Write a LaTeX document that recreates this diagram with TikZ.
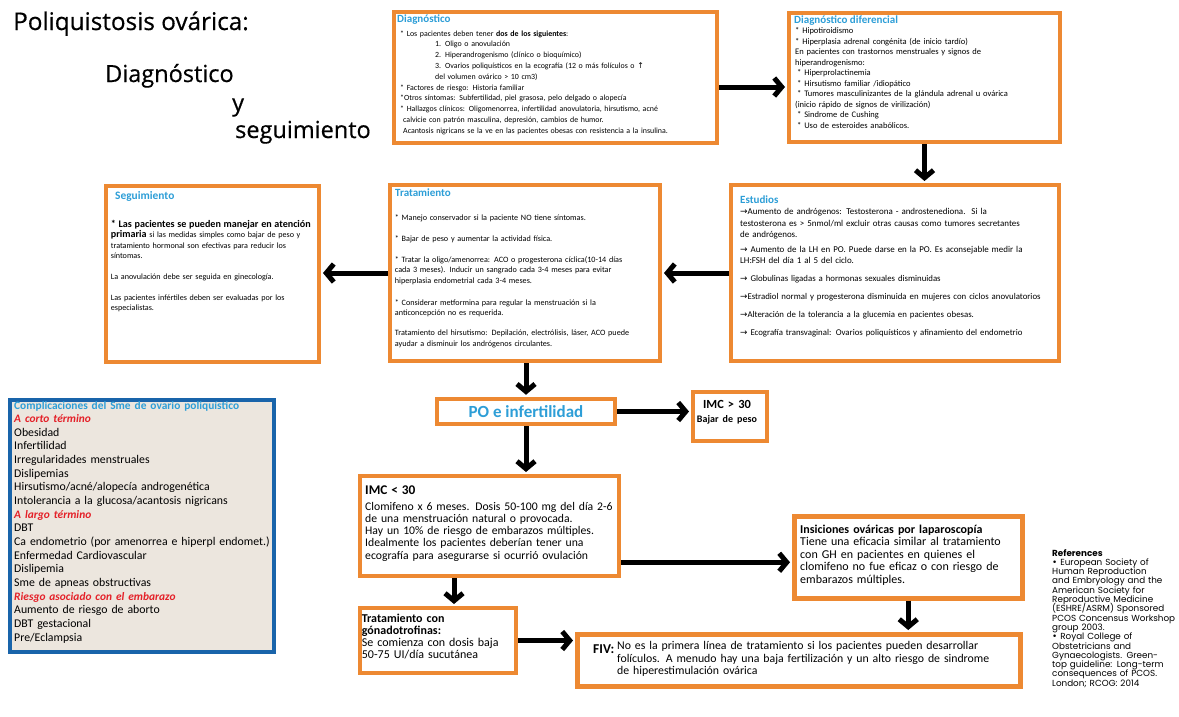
\documentclass[tikz,border=0pt]{standalone}
\usepackage{fontspec}
\setmainfont{Carlito}
\newfontfamily\symf{DejaVu Sans}
\newfontfamily\titf[FakeBold=0.5]{Open Sans}
\newfontfamily\reff{Poppins}
\usetikzlibrary{arrows.meta}
\definecolor{obord}{RGB}{237,137,50}
\definecolor{tblue}{RGB}{45,158,215}
\definecolor{cblue}{RGB}{25,100,170}
\definecolor{cfill}{RGB}{236,230,222}
\definecolor{cred}{RGB}{228,32,40}
\newcommand\myarr{{\symf →}}
\newcommand\myup{{\symf ↑}}
\newcommand\mybul{{\symf •}}
\newcommand\sstar{\mbox{*}}
\newcommand\chead[1]{{\color{cred}\bfseries\itshape\fontsize{11.4}{13.65}\selectfont #1}}
\begin{document}
\begin{tikzpicture}[x=1pt, y=-1pt,
  obox/.style={draw=obord, line width=4pt, fill=white, inner sep=0pt, anchor=north west},
  tx/.style={anchor=base west, inner sep=0pt, align=left, text width=#1},
  arr/.style={line width=5pt, -{Straight Barb[length=7.5pt,width=18pt]}, shorten >=2pt},
  ttl/.style={anchor=base west, inner sep=0pt, text=tblue, font=\bfseries\fontsize{11}{13}\selectfont},
  big/.style={anchor=base west, inner sep=0pt, font=\titf\fontsize{23.5}{26}\selectfont}]
\fill[white] (0,0) rectangle (1179,716);
\useasboundingbox (0,0) rectangle (1179,716);

% title
\node[big, font=\titf\fontsize{24.3}{26}\selectfont] (t1) at (13,30) {Poliquistosis ovárica:};
\node[big] (t2) at (105,82) {Diagnóstico};
\node[big] (t3) at (232,111) {y};
\node[big] (t4) at (235,138) {seguimiento};

% boxes
\node[obox, minimum width=323pt, minimum height=131pt] (diag) at (392,10) {};
\node[obox, minimum width=271pt, minimum height=129pt] (dif) at (787,11) {};
\node[obox, minimum width=328pt, minimum height=176pt] (est) at (729,183) {};
\node[obox, minimum width=270pt, minimum height=176pt] (trat) at (388,183) {};
\node[obox, minimum width=213pt, minimum height=176pt] (seg) at (104,184) {};
\node[obox, line width=4.5pt, anchor=center, minimum width=178pt, minimum height=25pt,
      text=tblue, font=\bfseries\fontsize{17}{18}\selectfont] (po) at (526,411.5) {PO e infertilidad};
\node[obox, minimum width=74pt, minimum height=49pt] (imc30) at (691,390) {};
\node[obox, minimum width=259pt, minimum height=100pt] (imcl) at (358,474) {};
\node[obox, minimum width=156pt, minimum height=65pt] (gonad) at (358,606) {};
\node[obox, line width=4.5pt, minimum width=228pt, minimum height=82pt] (insic) at (792,514) {};
\node[obox, line width=4.5pt, minimum width=443pt, minimum height=52pt] (fiv) at (575,632) {};
\node[draw=cblue, line width=3.5pt, fill=cfill, inner sep=0pt, anchor=north west,
      minimum width=264pt, minimum height=252pt] (comp) at (8,398) {};

% Diagnostico
\node[ttl] (diagh) at (397,22) {Diagnóstico};
\node[tx=320pt, font=\fontsize{7.9}{10.8}\selectfont] (diagt) at (400,36) {%
\sstar\ Los pacientes deben tener \textbf{dos de los siguientes}:\\
\hspace*{35pt}1. Oligo o anovulación\\
\hspace*{35pt}2. Hiperandrogenismo (clínico o bioquímico)\\
\hspace*{35pt}3. Ovarios poliquísticos en la ecografía (12 o más folículos o \myup\\
\hspace*{35pt}del volumen ovárico > 10 cm3)\\
\sstar\ Factores de riesgo: Historia familiar\\
\sstar Otros síntomas: Subfertilidad, piel grasosa, pelo delgado o alopecía\\
\sstar\ Hallazgos clínicos: Oligomenorrea, infertilidad anovulatoria, hirsutismo, acné\\
\hspace*{3pt}calvicie con patrón masculina, depresión, cambios de humor.\\
\hspace*{3pt}Acantosis nigricans se la ve en las pacientes obesas con resistencia a la insulina.};

% Diagnostico diferencial
\node[ttl] (difh) at (794,23.5) {Diagnóstico diferencial};
\node[tx=260pt, font=\fontsize{8.5}{10.55}\selectfont] (dift) at (795,33.5) {%
\sstar\ Hipotiroidismo\\
\sstar\ Hiperplasia adrenal congénita (de inicio tardío)\\
En pacientes con trastornos menstruales y signos de\\
hiperandrogenismo:\\
\hspace*{2pt}\sstar\ Hiperprolactinemia\\
\hspace*{2pt}\sstar\ Hirsutismo familiar /idiopático\\
\hspace*{2pt}\sstar\ Tumores masculinizantes de la glándula adrenal u ovárica\\
(inicio rápido de signos de virilización)\\
\hspace*{2pt}\sstar\ Sindrome de Cushing\\
\hspace*{2pt}\sstar\ Uso de esteroides anabólicos.};

% Estudios
\node[ttl] (esth) at (740,203) {Estudios};
\node[tx=320pt, font=\fontsize{8.95}{11.7}\selectfont] (est1) at (740,214.3) {%
\myarr Aumento de andrógenos: Testosterona - androstenediona.\ \ Si la\\
testosterona es > 5nmol/ml excluir otras causas como tumores secretantes\\
de andrógenos.};
\node[tx=320pt, font=\fontsize{8.95}{11.2}\selectfont] (est2) at (740,252.7) {%
\myarr\ Aumento de la LH en PO. Puede darse en la PO. Es aconsejable medir la\\
LH:FSH del día 1 al 5 del ciclo.};
\node[tx=320pt, font=\fontsize{8.8}{18.3}\selectfont] (est3) at (740,281) {%
\myarr\ Globulinas ligadas a hormonas sexuales disminuidas\\
\myarr Estradiol normal y progesterona disminuida en mujeres con ciclos anovulatorios\\
\myarr Alteración de la tolerancia a la glucemia en pacientes obesas.\\
\myarr\ Ecografía transvaginal: Ovarios poliquísticos y afinamiento del endometrio};

% Tratamiento
\node[ttl] (trath) at (395,196.5) {Tratamiento};
\node[tx=265pt, font=\fontsize{8.15}{10.4}\selectfont] (tratt) at (394.7,220.7) {%
\sstar\ Manejo conservador si la paciente NO tiene síntomas.\\[10.6pt]
\sstar\ Bajar de peso y aumentar la actividad física.\\[10.3pt]
\sstar\ Tratar la oligo/amenorrea: ACO o progesterona cíclica(10-14 días\\
cada 3 meses). Inducir un sangrado cada 3-4 meses para evitar\\
hiperplasia endometrial cada 3-4 meses.\\[11.9pt]
\sstar\ Considerar metformina para regular la menstruación si la\\
anticoncepción no es requerida.\\[9.6pt]
Tratamiento del hirsutismo: Depilación, electrólisis, láser, ACO puede\\
ayudar a disminuir los andrógenos circulantes.};

% Seguimiento
\node[ttl, font=\bfseries\fontsize{11.4}{13}\selectfont] (segh) at (115,199.5) {Seguimiento};
\node[tx=230pt, font=\fontsize{8.1}{10.4}\selectfont] (segt) at (110.7,227.5) {%
{\bfseries\fontsize{10.1}{10.4}\selectfont \sstar\ Las pacientes se pueden manejar en atención\\
primaria} si las medidas simples como bajar de peso y\\
tratamiento hormonal son efectivas para reducir los\\
síntomas.\\[10.3pt]
La anovulación debe ser seguida en ginecología.\\[10.3pt]
Las pacientes infértiles deben ser evaluadas por los\\
especialistas.};

% Complicaciones
\node[tx=300pt, font=\fontsize{11.8}{13.65}\selectfont] (compt) at (14,409) {%
{\color{tblue}\bfseries\fontsize{11.4}{13.65}\selectfont Complicaciones del Sme de ovario poliquístico}\\
\chead{A corto término}\\
Obesidad\\
Infertilidad\\
Irregularidades menstruales\\
Dislipemias\\
Hirsutismo/acné/alopecía androgenética\\
Intolerancia a la glucosa/acantosis nigricans\\
\chead{A largo término}\\
DBT\\
Ca endometrio (por amenorrea e hiperpl endomet.)\\
Enfermedad Cardiovascular\\
Dislipemia\\
Sme de apneas obstructivas\\
\chead{Riesgo asociado con el embarazo}\\
Aumento de riesgo de aborto\\
DBT gestacional\\
Pre/Eclampsia};

% IMC > 30
\node[anchor=base, inner sep=0pt, align=center, text width=72pt,
      font=\bfseries\fontsize{12.4}{14}\selectfont] (imc30t) at (727,408) {IMC > 30\\{\fontsize{10}{14}\selectfont Bajar de peso}};

% IMC < 30
\node[tx=260pt, font=\fontsize{11.7}{12.1}\selectfont] (imclt) at (365,494) {%
{\bfseries\fontsize{13.3}{12.1}\selectfont IMC < 30}\\[4.5pt]
Clomifeno x 6 meses. Dosis 50-100 mg del día 2-6\\
de una menstruación natural o provocada.\\
Hay un 10\% de riesgo de embarazos múltiples.\\
Idealmente los pacientes deberían tener una\\
ecografía para asegurarse si ocurrió ovulación};

% Gonadotrofinas
\node[tx=152pt, font=\fontsize{12}{12.3}\selectfont] (gonadt) at (361.7,622) {%
\textbf{Tratamiento con}\\
\textbf{gónadotrofinas:}\\
Se comienza con dosis baja\\
50-75 UI/día sucutánea};

% Insiciones
\node[tx=225pt, font=\fontsize{12}{12.5}\selectfont] (insict) at (800,533) {%
\textbf{Insiciones ováricas por laparoscopía}\\
Tiene una eficacia similar al tratamiento\\
con GH en pacientes en quienes el\\
clomifeno no fue eficaz o con riesgo de\\
embarazos múltiples.};

% FIV
\node[anchor=base west, inner sep=0pt, font=\bfseries\fontsize{13.5}{14}\selectfont] (fivh) at (593,653) {FIV:};
\node[tx=400pt, font=\fontsize{11.8}{12.5}\selectfont] (fivt) at (617,649.7) {%
No es la primera línea de tratamiento si los pacientes pueden desarrollar\\
folículos. A menudo hay una baja fertilización y un alto riesgo de sindrome\\
de hiperestimulación ovárica};

% References
\node[tx=130pt, font=\reff\fontsize{8.8}{9.3}\selectfont] (refs) at (1052,556) {%
\lineskiplimit=-10pt\relax
\textbf{References}\\
\mybul{} European Society of\\
Human Reproduction\\
and Embryology and the\\
American Society for\\
Reproductive Medicine\\
(ESHRE/ASRM) Sponsored\\
PCOS Concensus Workshop\\
group 2003.\\
\mybul{} Royal College of\\
Obstetricians and\\
Gynaecologists. Green-\\
top guideline: Long-term\\
consequences of PCOS.\\
London; RCOG: 2014};

% arrows
\draw[arr] ([yshift=-9.5pt]diag.east) -- ([yshift=-9.5pt]diag.east -| dif.west);
\draw[arr] (dif.south) -- (dif.south |- est.north);
\draw[arr] (est.west) -- (est.west -| trat.east);
\draw[arr] (trat.west) -- (trat.west -| seg.east);
\draw[arr] (po.north |- trat.south) -- (po.north);
\draw[arr] (po.east) -- (po.east -| imc30.west);
\draw[arr] (po.south) -- (po.south |- imcl.north);
\draw[arr] ([yshift=-5pt]insic.west -| imcl.east) -- ([yshift=-5pt]insic.west);
\draw[arr] ([xshift=16pt]gonad.north |- imcl.south) -- ([xshift=16pt]gonad.north);
\draw[arr] (gonad.east) -- (gonad.east -| fiv.west);
\draw[arr] (insic.south) -- (insic.south |- fiv.north);
\end{tikzpicture}
\end{document}
